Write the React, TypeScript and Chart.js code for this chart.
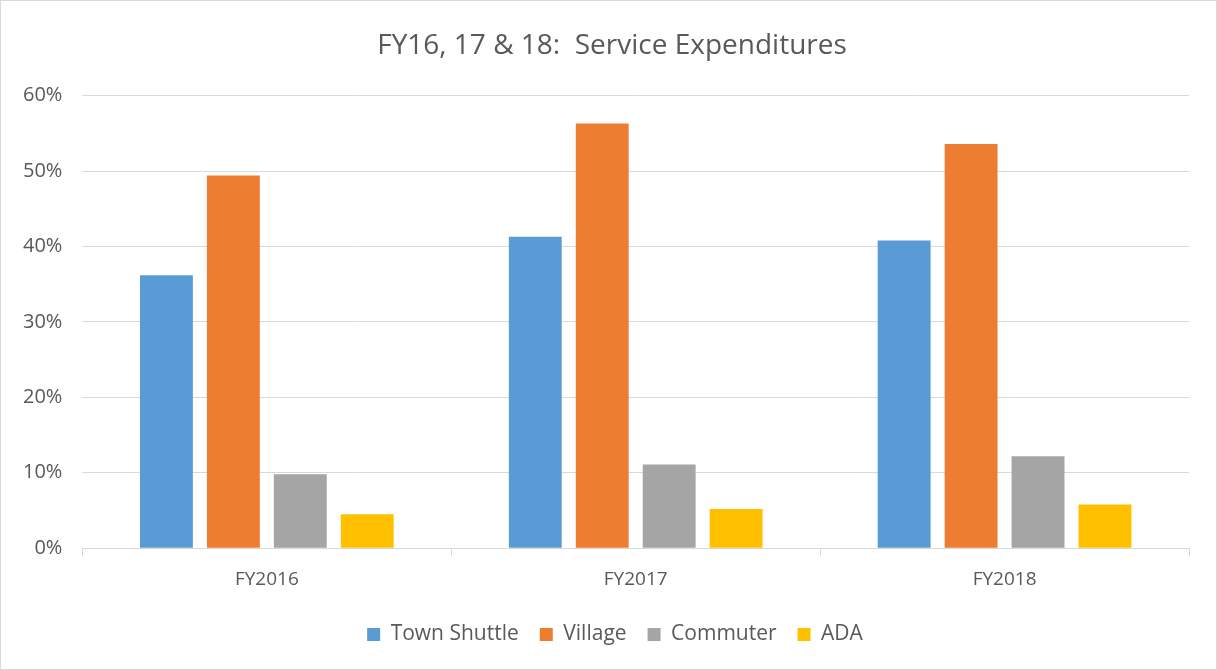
import React, { useEffect, useRef } from "react";
import { Chart, registerables } from "chart.js";

Chart.register(...registerables);

const categories = ["FY2016", "FY2017", "FY2018"];
const townShuttle = [36.2, 41.3, 40.8];
const village = [49.4, 56.3, 53.6];
const commuter = [9.8, 11.1, 12.2];
const ada = [4.5, 5.2, 5.8];
const yTicks = [0, 10, 20, 30, 40, 50, 60];

const FONT = "'Open Sans', Lato, sans-serif";
const TEXT = "#595959";

const shiftPlugin = {
  id: "shiftBlocks",
  afterLayout(chart: any) {
    const t = chart.titleBlock;
    if (t) {
      t.left += 16;
      t.right += 16;
    }
    const l = chart.legend;
    if (l) {
      l.left += 19;
      l.right += 19;
    }
  },
};

export default function App() {
  const ref = useRef<HTMLCanvasElement>(null);
  useEffect(() => {
    document.body.style.margin = "0";
    const ctx = ref.current!;
    const chart = new Chart(ctx, {
      type: "bar",
      data: {
        labels: categories,
        datasets: [
          { label: "Town Shuttle", data: townShuttle, backgroundColor: "#5b9bd5" },
          { label: "Village", data: village, backgroundColor: "#ed7d31" },
          { label: "Commuter", data: commuter, backgroundColor: "#a5a5a5" },
          { label: "ADA", data: ada, backgroundColor: "#ffc000" },
        ],
      },
      plugins: [shiftPlugin],
      options: {
        responsive: false,
        animation: false,
        datasets: { bar: { categoryPercentage: 0.726, barPercentage: 0.79 } },
        layout: { padding: { left: 2, right: 27, top: 20, bottom: 14 } },
        plugins: {
          title: {
            display: true,
            text: "FY16, 17 & 18:  Service Expenditures",
            color: TEXT,
            font: { family: FONT, size: 28, weight: "normal" },
            padding: { top: 8, bottom: 33 },
          },
          legend: {
            position: "bottom",
            labels: {
              color: TEXT,
              font: { family: FONT, size: 21 },
              boxWidth: 13,
              boxHeight: 13,
              padding: 21,
            },
          },
          tooltip: { enabled: false },
        },
        scales: {
          x: {
            grid: {
              offset: true,
              drawOnChartArea: false,
              drawTicks: true,
              tickLength: 8,
              color: "#d9d9d9",
            },
            border: { color: "#d9d9d9" },
            ticks: { color: TEXT, font: { family: FONT, size: 19 }, padding: 12 },
          },
          y: {
            min: 0,
            max: 60,
            afterBuildTicks: (axis: any) => {
              axis.ticks = yTicks.map((v) => ({ value: v }));
            },
            grid: { color: "#d9d9d9", drawTicks: false },
            border: { display: false },
            ticks: {
              color: TEXT,
              font: { family: FONT, size: 20 },
              padding: 20,
              callback: (v: any) => v + "%",
            },
          },
        },
      },
    });
    return () => chart.destroy();
  }, []);
  return (
    <div
      style={{
        position: "fixed",
        left: 0,
        top: 0,
        width: 1217,
        height: 670,
        boxSizing: "border-box",
        border: "1px solid #d9d9d9",
        background: "#fff",
      }}
    >
      <canvas ref={ref} width={1215} height={668} style={{ display: "block" }} />
    </div>
  );
}
